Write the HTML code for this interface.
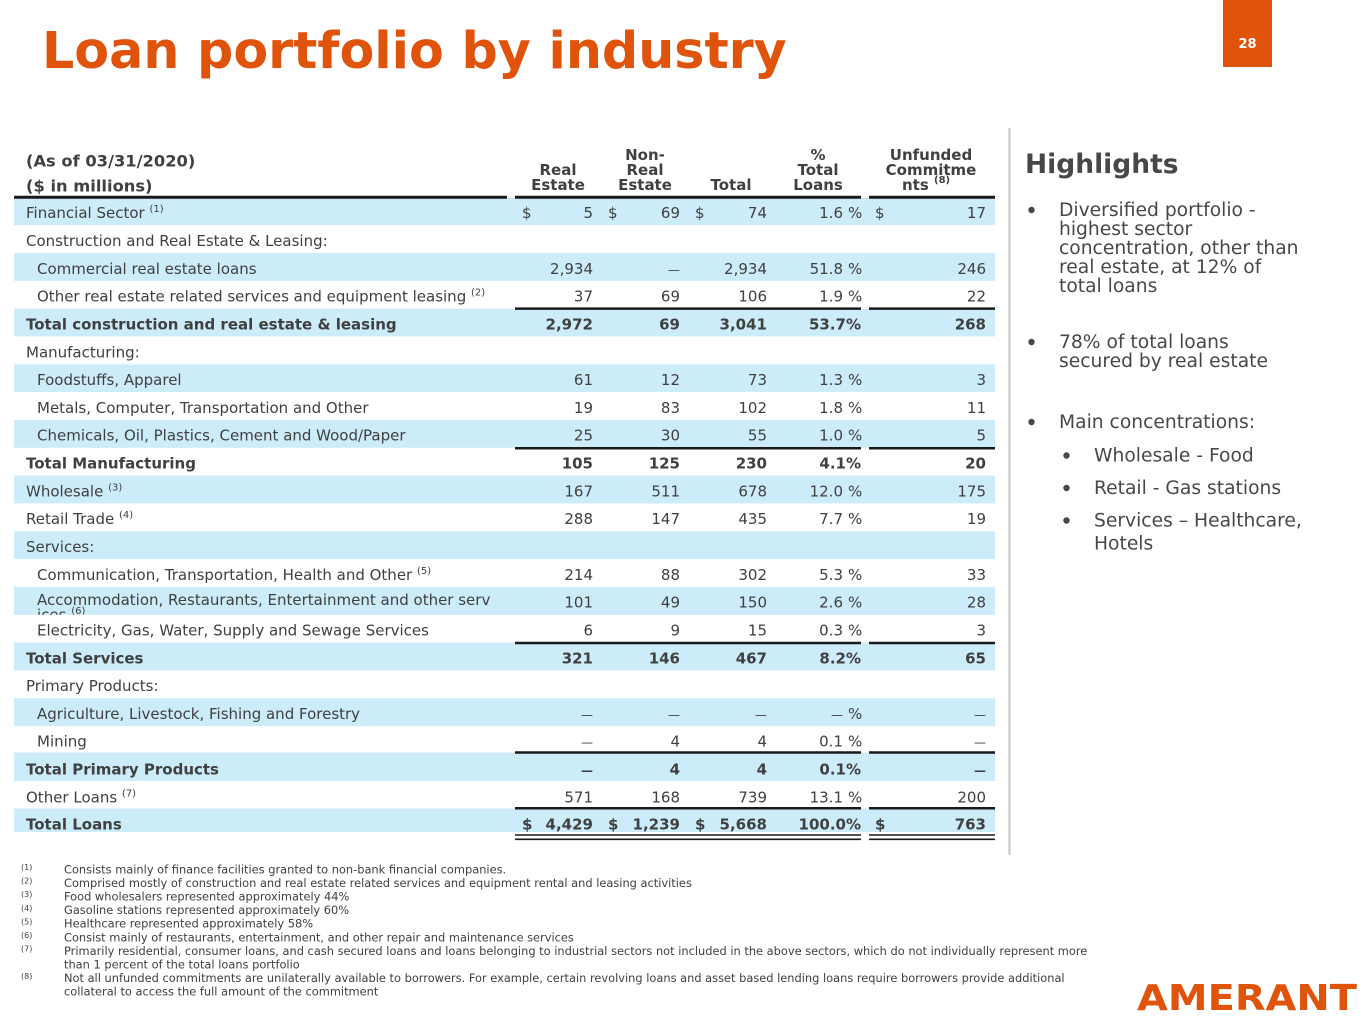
<!DOCTYPE html>
<html><head><meta charset="utf-8"><style>
html,body{margin:0;padding:0;background:#fff;}
svg{display:block;}
text{font-family:"DejaVu Sans","Liberation Sans",sans-serif;}
</style></head><body>
<svg width="1365" height="1024" viewBox="0 0 1365 1024" xmlns="http://www.w3.org/2000/svg">
<rect x="0" y="0" width="1365" height="1024" fill="#fff"/>
<!-- Title -->
<text x="42" y="68" font-size="50.7" font-weight="bold" fill="#e0530a">Loan portfolio by industry</text>
<!-- page number -->
<rect x="1223" y="0" width="49" height="67" fill="#e0530a"/>
<text x="1247.5" y="48" font-size="13" font-weight="bold" fill="#fff" text-anchor="middle">28</text>
<!-- divider -->
<line x1="1009.5" y1="128" x2="1009.5" y2="855" stroke="#c4c4c4" stroke-width="2"/>

<!-- blue rows -->
<g fill="#ccecfa">
<rect x="14" y="198" width="981" height="27.2"/>
<rect x="14" y="253" width="981" height="27.8"/>
<rect x="14" y="308.6" width="981" height="27.9"/>
<rect x="14" y="364.3" width="981" height="27.8"/>
<rect x="14" y="419.9" width="981" height="27.9"/>
<rect x="14" y="475.6" width="981" height="27.8"/>
<rect x="14" y="531.3" width="981" height="27.8"/>
<rect x="14" y="586.9" width="981" height="27.9"/>
<rect x="14" y="642.6" width="981" height="27.8"/>
<rect x="14" y="698.2" width="981" height="27.9"/>
<rect x="14" y="752.5" width="981" height="28.5"/>
<rect x="14" y="808.5" width="981" height="23.5"/>
</g>

<!-- header -->
<g fill="#404040" font-weight="bold">
<text x="26" y="166.7" font-size="16.3">(As of 03/31/2020)</text>
<text x="26" y="191.7" font-size="16.3">($ in millions)</text>
<g font-size="15" text-anchor="middle">
<text x="558" y="175">Real</text><text x="558" y="190">Estate</text>
<text x="645" y="160">Non-</text><text x="645" y="175">Real</text><text x="645" y="190">Estate</text>
<text x="731" y="190">Total</text>
<text x="818" y="160">%</text><text x="818" y="175">Total</text><text x="818" y="190">Loans</text>
<text x="931" y="160">Unfunded</text><text x="931" y="175">Commitme</text>
</g>
<text x="902" y="190" font-size="15">nts</text>
<text x="934" y="183" font-size="10">(8)</text>
</g>

<!-- lines -->
<g stroke="#1a1a1a">
<line x1="14" y1="197.3" x2="507" y2="197.3" stroke-width="3"/>
<line x1="515" y1="197.3" x2="861" y2="197.3" stroke-width="3"/>
<line x1="869" y1="197.3" x2="995" y2="197.3" stroke-width="3"/>
<g stroke-width="2.5">
<line x1="515" y1="308.6" x2="861" y2="308.6"/><line x1="869" y1="308.6" x2="995" y2="308.6"/>
<line x1="515" y1="448.3" x2="861" y2="448.3"/><line x1="869" y1="448.3" x2="995" y2="448.3"/>
<line x1="515" y1="643" x2="861" y2="643"/><line x1="869" y1="643" x2="995" y2="643"/>
<line x1="515" y1="752.5" x2="861" y2="752.5"/><line x1="869" y1="752.5" x2="995" y2="752.5"/>
<line x1="515" y1="808.3" x2="861" y2="808.3"/><line x1="869" y1="808.3" x2="995" y2="808.3"/>
</g>
<g stroke-width="1.6">
<line x1="515" y1="835" x2="861" y2="835"/><line x1="869" y1="835" x2="995" y2="835"/>
<line x1="515" y1="839.3" x2="861" y2="839.3"/><line x1="869" y1="839.3" x2="995" y2="839.3"/>
</g>
</g>

<defs><clipPath id="accClip"><rect x="14" y="586.9" width="500" height="27.9"/></clipPath></defs>

<!-- labels -->
<g fill="#404040" font-size="15">
<text x="26" y="218.1">Financial Sector <tspan font-size="10" dy="-6">(1)</tspan></text>
<text x="26" y="245.9">Construction and Real Estate &amp; Leasing:</text>
<text x="37" y="273.8">Commercial real estate loans</text>
<text x="37" y="301.6">Other real estate related services and equipment leasing <tspan font-size="10" dy="-6">(2)</tspan></text>
<text x="26" y="329.4" font-weight="bold">Total construction and real estate &amp; leasing</text>
<text x="26" y="357.3">Manufacturing:</text>
<text x="37" y="385.1">Foodstuffs, Apparel</text>
<text x="37" y="412.9">Metals, Computer, Transportation and Other</text>
<text x="37" y="440.7">Chemicals, Oil, Plastics, Cement and Wood/Paper</text>
<text x="26" y="468.6" font-weight="bold">Total Manufacturing</text>
<text x="26" y="496.4">Wholesale <tspan font-size="10" dy="-6">(3)</tspan></text>
<text x="26" y="524.2">Retail Trade <tspan font-size="10" dy="-6">(4)</tspan></text>
<text x="26" y="552.1">Services:</text>
<text x="37" y="579.9">Communication, Transportation, Health and Other <tspan font-size="10" dy="-6">(5)</tspan></text>
<g clip-path="url(#accClip)">
<text x="37" y="605">Accommodation, Restaurants, Entertainment and other serv</text>
<text x="37" y="620">ices <tspan font-size="10" dy="-6">(6)</tspan></text>
</g>
<text x="37" y="635.6">Electricity, Gas, Water, Supply and Sewage Services</text>
<text x="26" y="663.4" font-weight="bold">Total Services</text>
<text x="26" y="691.2">Primary Products:</text>
<text x="37" y="719">Agriculture, Livestock, Fishing and Forestry</text>
<text x="37" y="746.5">Mining</text>
<text x="26" y="774.5" font-weight="bold">Total Primary Products</text>
<text x="26" y="802.3">Other Loans <tspan font-size="10" dy="-6">(7)</tspan></text>
<text x="26" y="829.5" font-weight="bold">Total Loans</text>
</g>

<!-- dollar signs -->
<g fill="#404040" font-size="15">
<text x="522" y="218.1">$</text><text x="608" y="218.1">$</text><text x="695" y="218.1">$</text><text x="875" y="218.1">$</text>
<text x="522" y="829.5" font-weight="bold">$</text><text x="608" y="829.5" font-weight="bold">$</text><text x="695" y="829.5" font-weight="bold">$</text><text x="875" y="829.5" font-weight="bold">$</text>
</g>

<!-- numbers: regular -->
<g fill="#404040" font-size="15" text-anchor="end">
<g>
<text x="593" y="218.1">5</text>
<text x="593" y="273.8">2,934</text>
<text x="593" y="301.6">37</text>
<text x="593" y="385.1">61</text>
<text x="593" y="412.9">19</text>
<text x="593" y="440.7">25</text>
<text x="593" y="496.4">167</text>
<text x="593" y="524.2">288</text>
<text x="593" y="579.9">214</text>
<text x="593" y="607.7">101</text>
<text x="593" y="635.6">6</text>
<text x="593" y="719" font-size="12">—</text>
<text x="593" y="746.5" font-size="12">—</text>
<text x="593" y="802.3">571</text>
</g>
<g>
<text x="680" y="218.1">69</text>
<text x="680" y="273.8" font-size="12">—</text>
<text x="680" y="301.6">69</text>
<text x="680" y="385.1">12</text>
<text x="680" y="412.9">83</text>
<text x="680" y="440.7">30</text>
<text x="680" y="496.4">511</text>
<text x="680" y="524.2">147</text>
<text x="680" y="579.9">88</text>
<text x="680" y="607.7">49</text>
<text x="680" y="635.6">9</text>
<text x="680" y="719" font-size="12">—</text>
<text x="680" y="746.5">4</text>
<text x="680" y="802.3">168</text>
</g>
<g>
<text x="767" y="218.1">74</text>
<text x="767" y="273.8">2,934</text>
<text x="767" y="301.6">106</text>
<text x="767" y="385.1">73</text>
<text x="767" y="412.9">102</text>
<text x="767" y="440.7">55</text>
<text x="767" y="496.4">678</text>
<text x="767" y="524.2">435</text>
<text x="767" y="579.9">302</text>
<text x="767" y="607.7">150</text>
<text x="767" y="635.6">15</text>
<text x="767" y="719" font-size="12">—</text>
<text x="767" y="746.5">4</text>
<text x="767" y="802.3">739</text>
</g>
<g>
<text x="843" y="218.1">1.6</text>
<text x="843" y="273.8">51.8</text>
<text x="843" y="301.6">1.9</text>
<text x="843" y="385.1">1.3</text>
<text x="843" y="412.9">1.8</text>
<text x="843" y="440.7">1.0</text>
<text x="843" y="496.4">12.0</text>
<text x="843" y="524.2">7.7</text>
<text x="843" y="579.9">5.3</text>
<text x="843" y="607.7">2.6</text>
<text x="843" y="635.6">0.3</text>
<text x="843" y="719" font-size="12">—</text>
<text x="843" y="746.5">0.1</text>
<text x="843" y="802.3">13.1</text>
</g>
<g>
<text x="986" y="218.1">17</text>
<text x="986" y="273.8">246</text>
<text x="986" y="301.6">22</text>
<text x="986" y="385.1">3</text>
<text x="986" y="412.9">11</text>
<text x="986" y="440.7">5</text>
<text x="986" y="496.4">175</text>
<text x="986" y="524.2">19</text>
<text x="986" y="579.9">33</text>
<text x="986" y="607.7">28</text>
<text x="986" y="635.6">3</text>
<text x="986" y="719" font-size="12">—</text>
<text x="986" y="746.5" font-size="12">—</text>
<text x="986" y="802.3">200</text>
</g>
</g>
<!-- percent signs regular -->
<g fill="#404040" font-size="15">
<text x="848" y="218.1">%</text>
<text x="848" y="273.8">%</text>
<text x="848" y="301.6">%</text>
<text x="848" y="385.1">%</text>
<text x="848" y="412.9">%</text>
<text x="848" y="440.7">%</text>
<text x="848" y="496.4">%</text>
<text x="848" y="524.2">%</text>
<text x="848" y="579.9">%</text>
<text x="848" y="607.7">%</text>
<text x="848" y="635.6">%</text>
<text x="848" y="719">%</text>
<text x="848" y="746.5">%</text>
<text x="848" y="802.3">%</text>
</g>

<!-- bold totals -->
<g fill="#404040" font-size="15" font-weight="bold" text-anchor="end">
<text x="593" y="329.4">2,972</text><text x="680" y="329.4">69</text><text x="767" y="329.4">3,041</text><text x="861" y="329.4">53.7%</text><text x="986" y="329.4">268</text>
<text x="593" y="468.6">105</text><text x="680" y="468.6">125</text><text x="767" y="468.6">230</text><text x="861" y="468.6">4.1%</text><text x="986" y="468.6">20</text>
<text x="593" y="663.4">321</text><text x="680" y="663.4">146</text><text x="767" y="663.4">467</text><text x="861" y="663.4">8.2%</text><text x="986" y="663.4">65</text>
<text x="593" y="774.5" font-size="12">—</text><text x="680" y="774.5">4</text><text x="767" y="774.5">4</text><text x="861" y="774.5">0.1%</text><text x="986" y="774.5" font-size="12">—</text>
<text x="593" y="829.5">4,429</text><text x="680" y="829.5">1,239</text><text x="767" y="829.5">5,668</text><text x="861" y="829.5">100.0%</text><text x="986" y="829.5">763</text>
</g>

<!-- Highlights -->
<g fill="#474747">
<text x="1025" y="173" font-size="26.5" font-weight="bold">Highlights</text>
<g font-size="18.7">
<text x="1059" y="216">Diversified portfolio -</text>
<text x="1059" y="235">highest sector</text>
<text x="1059" y="254">concentration, other than</text>
<text x="1059" y="273">real estate, at 12% of</text>
<text x="1059" y="292">total loans</text>
<text x="1059" y="348">78% of total loans</text>
<text x="1059" y="367">secured by real estate</text>
<text x="1059" y="428">Main concentrations:</text>
<text x="1094" y="461.5">Wholesale - Food</text>
<text x="1094" y="494">Retail - Gas stations</text>
<text x="1094" y="526.5">Services – Healthcare,</text>
<text x="1094" y="549.5">Hotels</text>
</g>
<circle cx="1031.5" cy="210" r="3.2"/>
<circle cx="1031.5" cy="342" r="3.2"/>
<circle cx="1031.5" cy="422" r="3.2"/>
<circle cx="1066.5" cy="455.5" r="3.2"/>
<circle cx="1066.5" cy="488" r="3.2"/>
<circle cx="1066.5" cy="520.5" r="3.2"/>
</g>

<!-- footnotes -->
<g fill="#404040">
<g font-size="8">
<text x="21" y="870">(1)</text>
<text x="21" y="883.6">(2)</text>
<text x="21" y="897.2">(3)</text>
<text x="21" y="910.8">(4)</text>
<text x="21" y="924.4">(5)</text>
<text x="21" y="938">(6)</text>
<text x="21" y="951.6">(7)</text>
<text x="21" y="978.8">(8)</text>
</g>
<g font-size="11.4">
<text x="64" y="873.3">Consists mainly of finance facilities granted to non-bank financial companies.</text>
<text x="64" y="886.9">Comprised mostly of construction and real estate related services and equipment rental and leasing activities</text>
<text x="64" y="900.5">Food wholesalers represented approximately 44%</text>
<text x="64" y="914.1">Gasoline stations represented approximately 60%</text>
<text x="64" y="927.7">Healthcare represented approximately 58%</text>
<text x="64" y="941.3">Consist mainly of restaurants, entertainment, and other repair and maintenance services</text>
<text x="64" y="954.9">Primarily residential, consumer loans, and cash secured loans and loans belonging to industrial sectors not included in the above sectors, which do not individually represent more</text>
<text x="64" y="968.5">than 1 percent of the total loans portfolio</text>
<text x="64" y="982.1">Not all unfunded commitments are unilaterally available to borrowers. For example, certain revolving loans and asset based lending loans require borrowers provide additional</text>
<text x="64" y="995.7">collateral to access the full amount of the commitment</text>
</g>
</g>

<!-- logo -->
<text x="1137" y="1010" font-size="36" font-weight="bold" fill="#e0530a" textLength="220" lengthAdjust="spacingAndGlyphs">AMERANT</text>
</svg>
</body></html>
